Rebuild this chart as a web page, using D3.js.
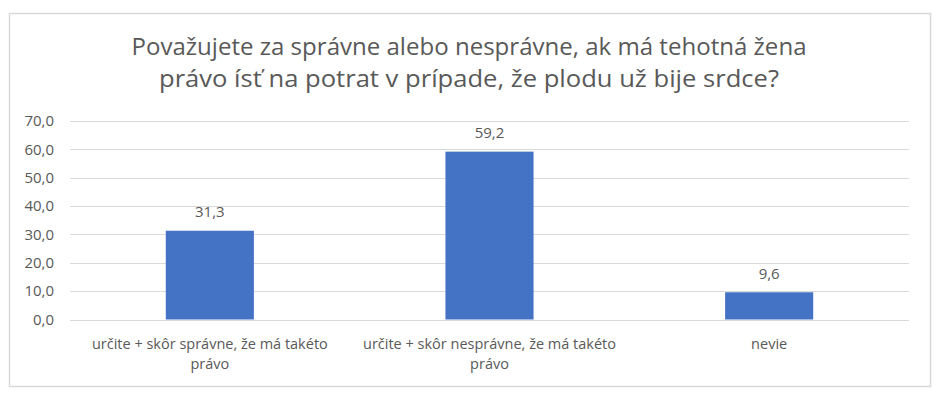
<!DOCTYPE html>
<html>
<head>
<meta charset="utf-8">
<script src="https://cdn.jsdelivr.net/npm/d3@7"></script>
<style>
  body { margin: 0; background: #fff; }
  text { font-family: "Open Sans", sans-serif; fill: #595959; }
</style>
</head>
<body>
<div id="chart"></div>
<script>
// data
var categories = ["určite + skôr správne, že má takéto právo",
                  "určite + skôr nesprávne, že má takéto právo",
                  "nevie"];
var values = [31.3, 59.2, 9.6];
var yTicks = [0, 10, 20, 30, 40, 50, 60, 70];
var titleLines = ["Považujete za správne alebo nesprávne, ak má tehotná žena",
                  "právo ísť na potrat v prípade, že plodu už bije srdce?"];

var W = 949, H = 399;
var margin = {top: 121, right: 40, bottom: 80, left: 70};
var width = 909 - margin.left,
    height = 319.5 - margin.top;

var svg = d3.select("#chart")
  .append("svg")
    .attr("width", W)
    .attr("height", H);

// outer border
svg.append("rect")
  .attr("x", 9.5).attr("y", 13.5)
  .attr("width", 921).attr("height", 373)
  .attr("fill", "#fff")
  .attr("stroke", "#d9d9d9")
  .attr("stroke-width", 1.5);

// title
svg.append("g").selectAll("text")
  .data(titleLines)
  .enter().append("text")
    .attr("x", 469)
    .attr("y", function(d, i) { return 55 + i * 32; })
    .attr("text-anchor", "middle")
    .style("font-size", "24px")
    .attr("textLength", function(d, i) { return i == 0 ? 675 : 620; })
    .attr("lengthAdjust", "spacingAndGlyphs")
    .text(function(d) { return d; });

var g = svg.append("g")
  .attr("transform", "translate(" + margin.left + "," + margin.top + ")");

var x = d3.scaleBand()
  .domain(categories)
  .range([0, width])
  .paddingInner(0.685)
  .paddingOuter(0.3425);

var y = d3.scaleLinear()
  .domain([0, 70])
  .range([height, 0]);

// gridlines
g.append("g")
  .selectAll("line")
  .data(yTicks)
  .enter().append("line")
    .attr("x1", 0).attr("x2", width)
    .attr("y1", function(d) { return Math.round(y(d)) + 0.5; })
    .attr("y2", function(d) { return Math.round(y(d)) + 0.5; })
    .attr("stroke", "#d9d9d9")
    .attr("stroke-width", 1);

// y axis labels
var yAxis = g.append("g")
  .call(d3.axisLeft(y).tickValues(yTicks).tickSize(0).tickPadding(16)
    .tickFormat(function(d) { return d3.format(".1f")(d).replace(".", ","); }))
  .attr("font-size", 15)
  .attr("font-family", "Open Sans, sans-serif");
yAxis.select(".domain").remove();
yAxis.selectAll("text")
  .attr("font-size", 15)
  .style("font-size", "15px")
  .style("fill", "#595959");

// bars
g.append("g")
  .selectAll("rect")
  .data(values)
  .enter().append("rect")
    .attr("x", function(d, i) { return x(categories[i]); })
    .attr("y", function(d) { return y(d); })
    .attr("width", x.bandwidth())
    .attr("height", function(d) { return height - y(d); })
    .attr("fill", "#4472c4");

// value labels
g.append("g")
  .selectAll("text")
  .data(values)
  .enter().append("text")
    .attr("x", function(d, i) { return x(categories[i]) + x.bandwidth() / 2; })
    .attr("y", function(d) { return y(d) - 13.5; })
    .attr("text-anchor", "middle")
    .style("font-size", "15px")
    .text(function(d) { return d3.format(".1f")(d).replace(".", ","); });

// category labels (wrapped)
var catG = g.append("g")
  .attr("transform", "translate(0," + height + ")");
categories.forEach(function(c, i) {
  var t = catG.append("text")
    .attr("x", x(c) + x.bandwidth() / 2)
    .attr("y", 29.5)
    .attr("text-anchor", "middle")
    .style("font-size", "14.5px");
  wrap(t, c, x.step() - 16);
});

function wrap(textSel, str, maxW) {
  var words = str.split(" "), line = [];
  var cx = textSel.attr("x");
  var tspan = textSel.append("tspan").attr("x", cx).attr("dy", 0);
  words.forEach(function(w) {
    line.push(w);
    tspan.text(line.join(" "));
    if (tspan.node().getComputedTextLength() > maxW && line.length > 1) {
      line.pop();
      tspan.text(line.join(" "));
      line = [w];
      tspan = textSel.append("tspan").attr("x", cx).attr("dy", 20).text(w);
    }
  });
}
</script>
</body>
</html>
